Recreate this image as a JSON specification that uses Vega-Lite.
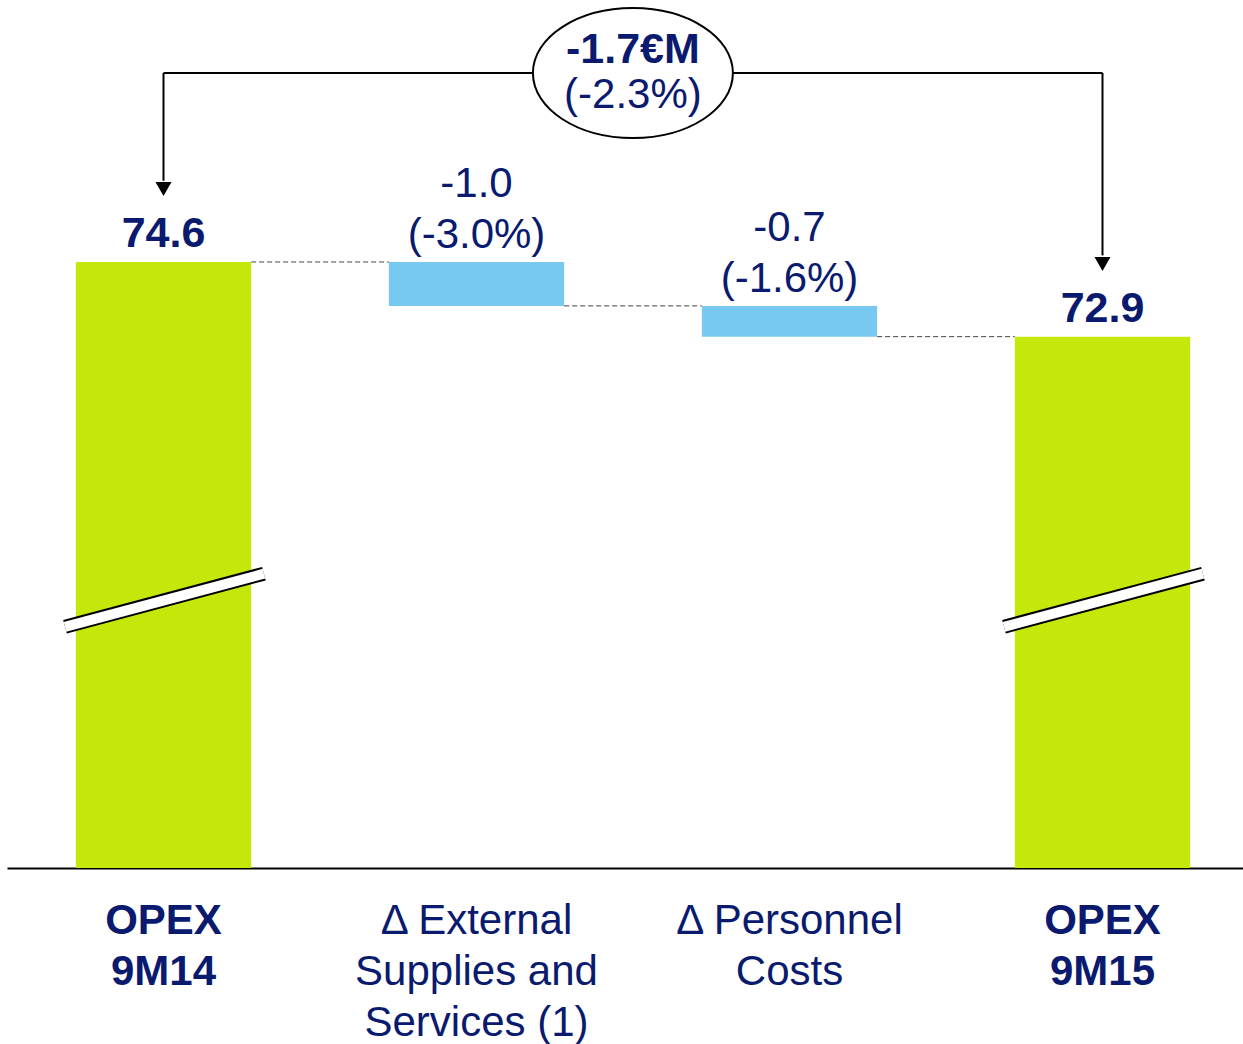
{
  "$schema": "https://vega.github.io/schema/vega-lite/v6.json",
  "width": 1236,
  "height": 868,
  "autosize": {"type": "none"},
  "padding": {"left": 7, "top": 0, "right": 0, "bottom": 176},
  "background": "white",
  "config": {
    "view": {"stroke": null},
    "axisY": {"disable": true},
    "text": {"font": "Liberation Sans", "color": "#0a1a6e", "fontSize": 42}
  },
  "datasets": {
    "bars": [
      {"cat": "OPEX 9M14", "kind": "total", "start": null, "end": 74.6, "label": "74.6"},
      {"cat": "Δ External Supplies and Services (1)", "kind": "delta", "start": 74.6, "end": 73.6, "l1": "-1.0", "l2": "(-3.0%)"},
      {"cat": "Δ Personnel Costs", "kind": "delta", "start": 73.6, "end": 72.9, "l1": "-0.7", "l2": "(-1.6%)"},
      {"cat": "OPEX 9M15", "kind": "total", "start": null, "end": 72.9, "label": "72.9"}
    ],
    "links": [
      {"from": "OPEX 9M14", "to": "Δ External Supplies and Services (1)", "level": 74.6},
      {"from": "Δ External Supplies and Services (1)", "to": "Δ Personnel Costs", "level": 73.6},
      {"from": "Δ Personnel Costs", "to": "OPEX 9M15", "level": 72.9}
    ],
    "change": [
      {"from": "OPEX 9M14", "to": "OPEX 9M15", "level": 78.905, "amount": "-1.7€M", "pct": "(-2.3%)"}
    ]
  },
  "layer": [
    {
      "data": {"name": "bars"},
      "transform": [{"filter": "datum.kind == 'total'"}],
      "mark": {"type": "bar", "color": "#c5e80a", "clip": true},
      "encoding": {
        "x": {
          "field": "cat", "type": "nominal", "title": null,
          "scale": {
            "domain": ["OPEX 9M14", "Δ External Supplies and Services (1)", "Δ Personnel Costs", "OPEX 9M15"],
            "range": [0, 1252], "paddingInner": 0.44, "paddingOuter": 0.22
          },
          "axis": {
            "title": null, "labelAngle": 0, "ticks": false, "grid": false,
            "domainColor": "#000000", "domainWidth": 2,
            "labelFont": "Liberation Sans", "labelFontSize": 42, "labelColor": "#0a1a6e",
            "labelLineHeight": 51, "labelBaseline": "top", "labelPadding": 32,
            "labelLimit": 500, "labelOverlap": false, "labelBound": false, "labelFlush": false,
            "labelFontWeight": {"condition": {"test": "indexof(datum.value, 'OPEX') == 0", "value": "bold"}, "value": "normal"},
            "labelExpr": "datum.value == 'OPEX 9M14' ? ['OPEX', '9M14'] : datum.value == 'OPEX 9M15' ? ['OPEX', '9M15'] : datum.value == 'Δ Personnel Costs' ? ['Δ Personnel', 'Costs'] : ['Δ External', 'Supplies and', 'Services (1)']"
          }
        },
        "y": {
          "field": "end", "type": "quantitative", "title": null, "axis": null,
          "scale": {"domain": [60.796, 80.568], "zero": false, "nice": false}
        }
      }
    },
    {
      "data": {"name": "bars"},
      "transform": [{"filter": "datum.kind == 'delta'"}],
      "mark": {"type": "bar", "color": "#78c9f2"},
      "encoding": {
        "x": {"field": "cat", "type": "nominal", "title": null},
        "y": {"field": "start", "type": "quantitative", "title": null},
        "y2": {"field": "end"}
      }
    },
    {
      "data": {"name": "links"},
      "mark": {"type": "rule", "color": "#444444", "strokeWidth": 1, "strokeDash": [5, 3]},
      "encoding": {
        "x": {"field": "from", "type": "nominal", "title": null, "bandPosition": 1},
        "x2": {"field": "to", "bandPosition": 0},
        "y": {"field": "level", "type": "quantitative", "title": null}
      }
    },
    {
      "data": {"name": "bars"},
      "transform": [{"filter": "datum.kind == 'total'"}],
      "mark": {"type": "rule", "color": "#000000", "strokeWidth": 14, "strokeCap": "butt"},
      "encoding": {
        "x": {"field": "cat", "type": "nominal", "title": null, "bandPosition": -0.062},
        "x2": {"field": "cat", "bandPosition": 1.073},
        "y": {"datum": 66.29, "type": "quantitative"},
        "y2": {"datum": 67.5}
      }
    },
    {
      "data": {"name": "bars"},
      "transform": [{"filter": "datum.kind == 'total'"}],
      "mark": {"type": "rule", "color": "#ffffff", "strokeWidth": 10, "strokeCap": "butt"},
      "encoding": {
        "x": {"field": "cat", "type": "nominal", "title": null, "bandPosition": -0.062},
        "x2": {"field": "cat", "bandPosition": 1.073},
        "y": {"datum": 66.29, "type": "quantitative"},
        "y2": {"datum": 67.5}
      }
    },
    {
      "data": {"name": "bars"},
      "transform": [{"filter": "datum.kind == 'total'"}],
      "mark": {"type": "text", "fontWeight": "bold", "fontSize": 43, "baseline": "alphabetic", "dy": -15},
      "encoding": {
        "x": {"field": "cat", "type": "nominal", "title": null},
        "y": {"field": "end", "type": "quantitative"},
        "text": {"field": "label"}
      }
    },
    {
      "data": {"name": "bars"},
      "transform": [{"filter": "datum.kind == 'delta'"}],
      "mark": {"type": "text", "baseline": "alphabetic", "dy": -65},
      "encoding": {
        "x": {"field": "cat", "type": "nominal", "title": null},
        "y": {"field": "start", "type": "quantitative"},
        "text": {"field": "l1"}
      }
    },
    {
      "data": {"name": "bars"},
      "transform": [{"filter": "datum.kind == 'delta'"}],
      "mark": {"type": "text", "baseline": "alphabetic", "dy": -14},
      "encoding": {
        "x": {"field": "cat", "type": "nominal", "title": null},
        "y": {"field": "start", "type": "quantitative"},
        "text": {"field": "l2"}
      }
    },
    {
      "data": {"name": "change"},
      "mark": {"type": "rule", "color": "#000000", "strokeWidth": 2},
      "encoding": {
        "x": {"field": "from", "type": "nominal", "title": null, "bandPosition": 0.5},
        "x2": {"field": "to", "bandPosition": 0.5},
        "y": {"field": "level", "type": "quantitative"}
      }
    },
    {
      "data": {"name": "change"},
      "mark": {"type": "rule", "color": "#000000", "strokeWidth": 2},
      "encoding": {
        "x": {"field": "from", "type": "nominal", "title": null},
        "y": {"field": "level", "type": "quantitative"},
        "y2": {"datum": 76.45}
      }
    },
    {
      "data": {"name": "change"},
      "mark": {"type": "rule", "color": "#000000", "strokeWidth": 2},
      "encoding": {
        "x": {"field": "to", "type": "nominal", "title": null},
        "y": {"field": "level", "type": "quantitative"},
        "y2": {"datum": 74.75}
      }
    },
    {
      "data": {"name": "change"},
      "mark": {"type": "point", "shape": "triangle-down", "size": 256, "filled": true, "color": "#000000", "opacity": 1},
      "encoding": {
        "x": {"field": "from", "type": "nominal", "title": null},
        "y": {"datum": 76.263, "type": "quantitative"}
      }
    },
    {
      "data": {"name": "change"},
      "mark": {"type": "point", "shape": "triangle-down", "size": 256, "filled": true, "color": "#000000", "opacity": 1},
      "encoding": {
        "x": {"field": "to", "type": "nominal", "title": null},
        "y": {"datum": 74.554, "type": "quantitative"}
      }
    },
    {
      "data": {"name": "change"},
      "mark": {"type": "point", "shape": "M-1,0A1,0.65,0,1,1,1,0A1,0.65,0,1,1,-1,0Z", "size": 40000, "filled": true, "fill": "#ffffff", "stroke": "#000000", "strokeWidth": 2, "opacity": 1},
      "encoding": {
        "x": {"field": "from", "type": "nominal", "title": null, "bandPosition": 3.178},
        "y": {"field": "level", "type": "quantitative"}
      }
    },
    {
      "data": {"name": "change"},
      "mark": {"type": "text", "fontWeight": "bold", "fontSize": 43, "baseline": "alphabetic", "dy": -10},
      "encoding": {
        "x": {"field": "from", "type": "nominal", "title": null, "bandPosition": 3.178},
        "y": {"field": "level", "type": "quantitative"},
        "text": {"field": "amount"}
      }
    },
    {
      "data": {"name": "change"},
      "mark": {"type": "text", "baseline": "alphabetic", "dy": 35},
      "encoding": {
        "x": {"field": "from", "type": "nominal", "title": null, "bandPosition": 3.178},
        "y": {"field": "level", "type": "quantitative"},
        "text": {"field": "pct"}
      }
    }
  ]
}
